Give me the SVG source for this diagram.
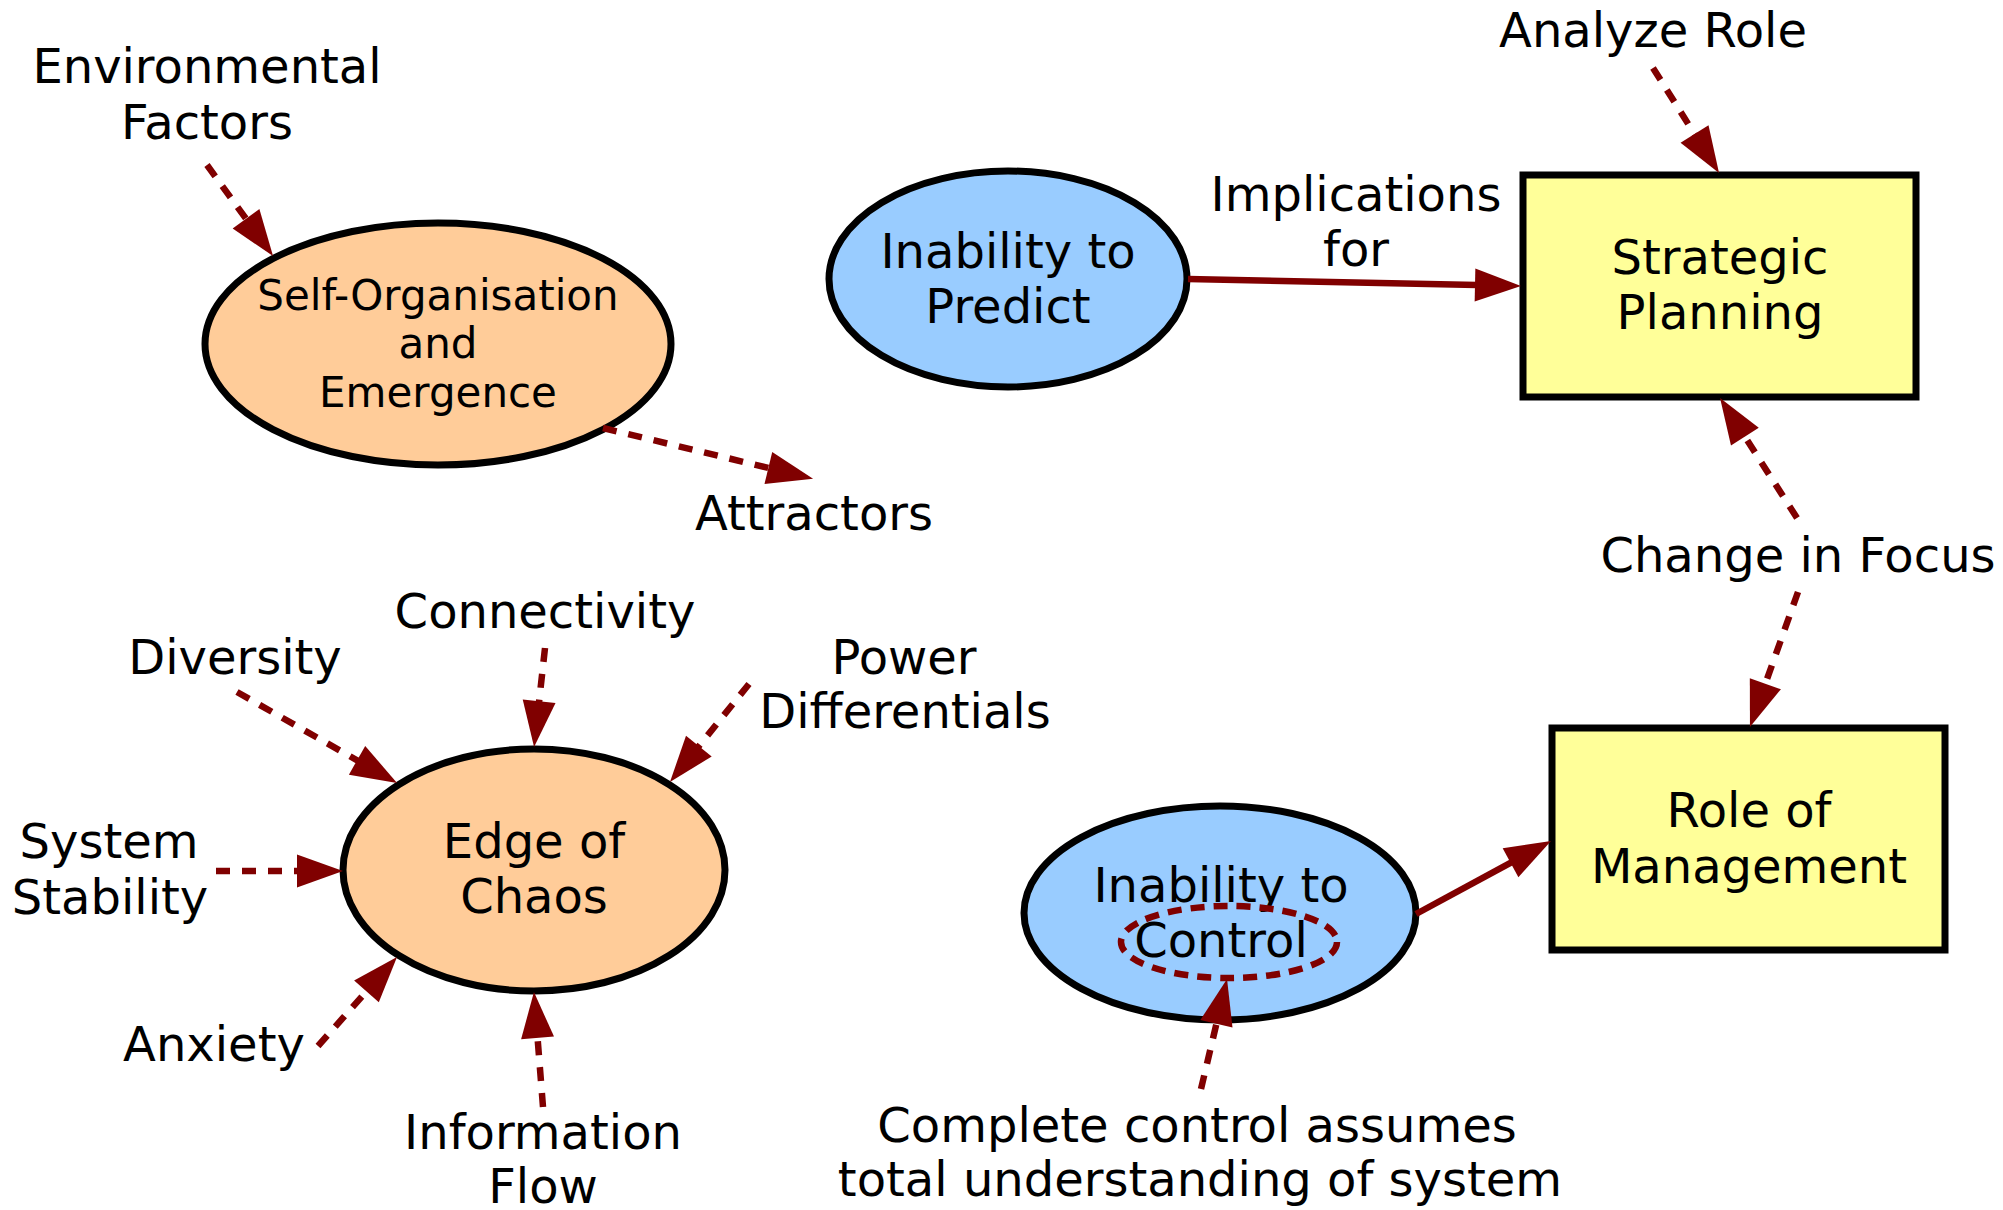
<svg xmlns="http://www.w3.org/2000/svg" width="2003" height="1210" viewBox="0 0 2003 1210">
<style>
text{font-family:"DejaVu Sans","Liberation Sans",sans-serif;font-size:48px;fill:#000;text-anchor:middle}
.sm{font-size:42px}
.node{stroke:#000;stroke-width:7}
.orange{fill:#FFCC99}
.blue{fill:#99CCFF}
.yellow{fill:#FFFF99}
.c{fill:none;stroke:#800000;stroke-width:6.5;marker-end:url(#ah)}
.d{stroke-dasharray:14 12}
</style>
<defs>
<marker id="ah" markerUnits="userSpaceOnUse" markerWidth="50" markerHeight="34" refX="2" refY="16.5" orient="auto" overflow="visible">
<path d="M0,0 L46,16.5 L0,33 z" fill="#800000"/>
</marker>
</defs>
<rect width="2003" height="1210" fill="#fff"/>
<g id="self-organisation">
<ellipse class="node orange" cx="438" cy="344" rx="233" ry="121"/>
<text class="sm" x="438" y="310">Self-Organisation</text>
<text class="sm" x="438" y="358">and</text>
<text class="sm" x="438" y="407">Emergence</text>
</g>
<g id="inability-predict">
<ellipse class="node blue" cx="1008" cy="279" rx="179" ry="108"/>
<text x="1008" y="268">Inability to</text>
<text x="1008" y="323">Predict</text>
</g>
<g id="strategic-planning">
<rect class="node yellow" x="1523" y="175" width="393" height="222"/>
<text x="1720" y="274">Strategic</text>
<text x="1720" y="329">Planning</text>
</g>
<g id="edge-of-chaos">
<ellipse class="node orange" cx="534" cy="870" rx="191" ry="121"/>
<text x="534" y="858">Edge of</text>
<text x="534" y="913">Chaos</text>
</g>
<g id="role-of-management">
<rect class="node yellow" x="1552" y="728" width="393" height="222"/>
<text x="1749" y="827">Role of</text>
<text x="1749" y="883">Management</text>
</g>
<g id="inability-control">
<ellipse class="node blue" cx="1220" cy="913" rx="196" ry="107"/>
<text x="1221" y="902">Inability to</text>
<text x="1221" y="957">Control</text>
<ellipse cx="1229" cy="942" rx="108" ry="36" fill="none" stroke="#800000" stroke-width="6.5" stroke-dasharray="14 9"/>
</g>
<g id="environmental-factors">
<text x="207" y="83">Environmental</text>
<text x="207" y="139">Factors</text>
</g>
<g id="attractors"><text x="814" y="530">Attractors</text></g>
<g id="analyze-role"><text x="1653" y="47">Analyze Role</text></g>
<g id="implications-for">
<text x="1356" y="211">Implications</text>
<text x="1356" y="266">for</text>
</g>
<g id="change-in-focus"><text x="1798" y="572">Change in Focus</text></g>
<g id="connectivity"><text x="545" y="628">Connectivity</text></g>
<g id="diversity"><text x="235" y="674">Diversity</text></g>
<g id="power-differentials">
<text x="904" y="674">Power</text>
<text x="905" y="728">Differentials</text>
</g>
<g id="system-stability">
<text x="109" y="858">System</text>
<text x="110" y="914">Stability</text>
</g>
<g id="anxiety"><text x="214" y="1061">Anxiety</text></g>
<g id="information-flow">
<text x="543" y="1149">Information</text>
<text x="543" y="1203">Flow</text>
</g>
<g id="complete-control">
<text x="1197" y="1142">Complete control assumes</text>
<text x="1200" y="1196">total understanding of system</text>
</g>
<g id="connectors">
<path class="c d" d="M207,165 L247.2,220.4"/>
<path class="c d" d="M603,428 L770.3,468.4"/>
<path class="c d" d="M1653,68 L1695.6,135.7"/>
<path class="c" d="M1188,279 L1477,285.1"/>
<path class="c d" d="M1797,518 L1743.8,435"/>
<path class="c d" d="M1798,592 L1764.7,685.6"/>
<path class="c" d="M1416,914 L1512.3,861.9"/>
<path class="c d" d="M1201,1089 L1216.9,1021.8"/>
<path class="c d" d="M545,648 L538.9,703.3"/>
<path class="c d" d="M237,692 L358.8,761.3"/>
<path class="c d" d="M749,684 L697.6,747.7"/>
<path class="c d" d="M216,871 L299,871"/>
<path class="c d" d="M318,1046 L367.8,989.9"/>
<path class="c d" d="M543,1107 L537.4,1035.9"/>
</g>
</svg>
